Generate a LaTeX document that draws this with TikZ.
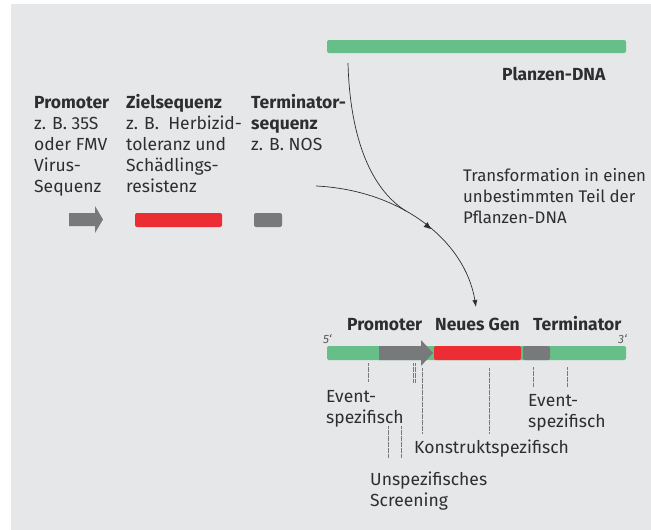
\documentclass[tikz,border=0pt]{standalone}
\usepackage{fontspec}
\setmainfont{Fira Sans}
\usetikzlibrary{arrows.meta,decorations.markings}
\definecolor{bgc}{HTML}{E6E7E8}
\definecolor{dnagreen}{HTML}{66BE88}
\definecolor{genred}{HTML}{EC2D33}
\definecolor{elgray}{HTML}{78797B}
\definecolor{txt}{HTML}{2E2E2E}
\definecolor{dotc}{HTML}{7A7A7A}
\newcommand{\topstrut}{\rule{0pt}{15pt}}
\begin{document}
\begin{tikzpicture}[x=1pt,y=-1pt,
  lbl/.style={inner sep=0pt, text=txt, font=\fontsize{17.5}{21}\selectfont},
  blk/.style={lbl, anchor=north west, align=left},
  one/.style={lbl, anchor=base west},
  prime/.style={inner sep=0pt, text=txt!80, font=\fontsize{12}{14}\selectfont\itshape, anchor=base west},
  bar/.style={rounded corners=2pt},
  dotline/.style={draw=dotc, line width=0.6pt, dash pattern=on 0.6pt off 0.6pt},
  curve/.style={draw=txt, line width=0.7pt},
  tip/.style={-{Latex[length=7pt,width=5pt]}}
]
\useasboundingbox (0,0) rectangle (651,530);
\fill[white] (0,0) rectangle (651,530);
\fill[bgc] (11,4) rectangle (651,530);

% top plant DNA
\fill[dnagreen, bar] (327,40) rectangle (626,53);
\node[one, font=\fontsize{17.5}{21}\selectfont\bfseries] (pdna) at (502,80) {Planzen-DNA};

% left column texts
\node[blk] (promtxt) at (34,93) {\topstrut\textbf{Promoter}\\z. B. 35S\\oder FMV\\Virus-\\Sequenz};
\node[blk] (zieltxt) at (126,93) {\topstrut\textbf{Zielsequenz}\\z. B.\ \ Herbizid-\\toleranz und\\Schädlings-\\resistenz};
\node[blk] (termtxt) at (251,93) {\topstrut\textbf{Terminator-}\\\textbf{sequenz}\\z. B. NOS};

% left elements
\fill[elgray] (69,213) -- (95,213) -- (95,206) -- (103,219.5) -- (95,233) -- (95,226) -- (69,226) -- cycle;
\fill[genred, bar] (135,213) rectangle (222,227);
\fill[elgray, bar] (254,213) rectangle (282,227);

% transformation text
\node[blk, font=\fontsize{16.8}{21}\selectfont] (trans) at (463,166) {\topstrut Transformation in einen\\unbestimmten Teil der\\Pflanzen-DNA};

% curves
\coordinate (c2s) at (316,186);
\coordinate (c2e) at (476,307);
\coordinate (c1s) at (348,63);
\coordinate (c1e) at (406,211);
\draw[curve, tip, postaction={decorate}, decoration={markings, mark=at position 0.56 with {\fill[txt] (3.5pt,0) -- (-3.5pt,3pt) -- (-3.5pt,-3pt) -- cycle;}}]
  (c2s) .. controls (400,190) and (465,240) .. (c2e);
\draw[curve] (c1s) .. controls (350,140) and (372,190) .. (c1e);

% bottom construct
\fill[dnagreen, bar] (327,346) rectangle (626,360);
\fill[elgray] (379,346) -- (421,346) -- (421,340) -- (433,353) -- (421,366) -- (421,360) -- (379,360) -- cycle;
\fill[genred, bar] (434,346) rectangle (521,360);
\fill[elgray, bar] (523,346) rectangle (550,360);

\node[one, font=\fontsize{17.5}{21}\selectfont\bfseries] (bprom) at (347,330) {Promoter};
\node[one, font=\fontsize{17.5}{21}\selectfont\bfseries] (bgen) at (435,330) {Neues Gen};
\node[one, font=\fontsize{17.5}{21}\selectfont\bfseries] (bterm) at (533,330) {Terminator};
\node[prime] (p5) at (323,343) {5‘};
\node[prime, anchor=base east] (p3) at (627,343) {3‘};

% dotted markers
\draw[dotline] (368,363) -- (368,382);
\draw[dotline] (413,363) -- (413,383);
\draw[dotline] (415,363) -- (415,383);
\draw[dotline] (422,368) -- (422,433);
\draw[dotline] (489,368) -- (489,433);
\draw[dotline] (533,367) -- (533,387);
\draw[dotline] (567,367) -- (567,387);
\draw[dotline] (388,426) -- (388,458);
\draw[dotline] (401,426) -- (401,458);

% bottom labels
\node[blk] (ev1) at (326,387) {\topstrut Event-\\spezifisch};
\node[blk] (ev2) at (528,391) {\topstrut Event-\\spezifisch};
\node[one] (konst) at (414,453) {Konstruktspezifisch};
\node[blk] (unsp) at (370,470) {\topstrut Unspezifisches\\Screening};
\end{tikzpicture}
\end{document}
